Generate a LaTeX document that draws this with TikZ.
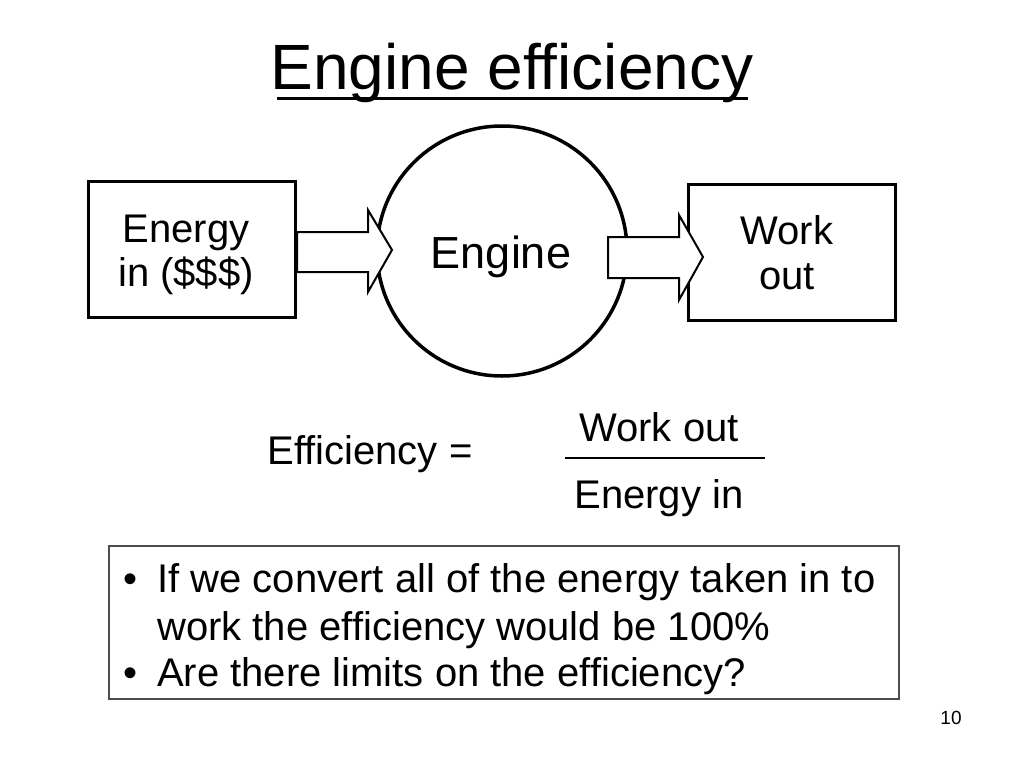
\documentclass[tikz,border=0pt]{standalone}
\usepackage{fontspec}
\setmainfont{Liberation Sans}
\begin{document}
\begin{tikzpicture}[x=1pt,y=-1pt,
  box/.style={draw,line width=3pt,fill=white},
  arr/.style={draw,line width=2pt,fill=white,line join=miter},
  txt/.style={inner sep=0pt,align=center,anchor=base},
  big/.style={font=\fontsize{40}{46}\selectfont}]
\useasboundingbox (0,0) rectangle (1024,768);
\fill[white] (0,0) rectangle (1024,768);
% title
\node[txt,font=\fontsize{64}{70}\selectfont] (title) at (512,89) {Engine efficiency};
\draw[line width=3pt] (277,98) -- (748,98);
% boxes and circle
\draw[box] (88,181) rectangle (295,317);
\node[txt,big] (ein1) at (186,242) {Energy};
\node[txt,big] (ein2) at (186,286) {in (\$\$\$)};
\draw[box] (688,184) rectangle (895,320);
\node[txt,big] (wout1) at (787,244) {Work};
\node[txt,big] (wout2) at (787,289) {out};
\node[draw,line width=3.5pt,circle,minimum size=250pt,inner sep=0pt] (eng) at (502,251) {};
\node[txt,font=\fontsize{45}{50}\selectfont] (engt) at (501,268) {Engine};
% arrows
\draw[arr] (297,232) -- (368,232) -- (368,210) -- (392,250) -- (368,292) -- (368,272) -- (297,272) -- cycle;
\draw[arr] (608,237) -- (679,237) -- (679,215) -- (703,257) -- (679,300) -- (679,278) -- (608,278) -- cycle;
% efficiency
\node[txt,big] (eff) at (370,464) {Efficiency =};
\node[txt,big] (num) at (659,441) {Work out};
\draw[line width=2.5pt] (565,458) -- (765,458);
\node[txt,big] (den) at (659,508) {Energy in};
% bottom box
\draw[line width=1.5pt,draw=black!70] (109,546) rectangle (899,699);
\begin{scope}[big,nodes={inner sep=0pt,anchor=base west}]
\node (b1) at (123,592) {\textbullet};
\node (l1) at (157,592) {If we convert all of the energy taken in to};
\node (l2) at (157,640) {work the efficiency would be 100\%};
\node (b2) at (123,686) {\textbullet};
\node (l3) at (157,686) {Are there limits on the efficiency?};
\end{scope}
\node[txt,font=\fontsize{19}{22}\selectfont] (pg) at (951,724) {10};
\end{tikzpicture}
\end{document}
